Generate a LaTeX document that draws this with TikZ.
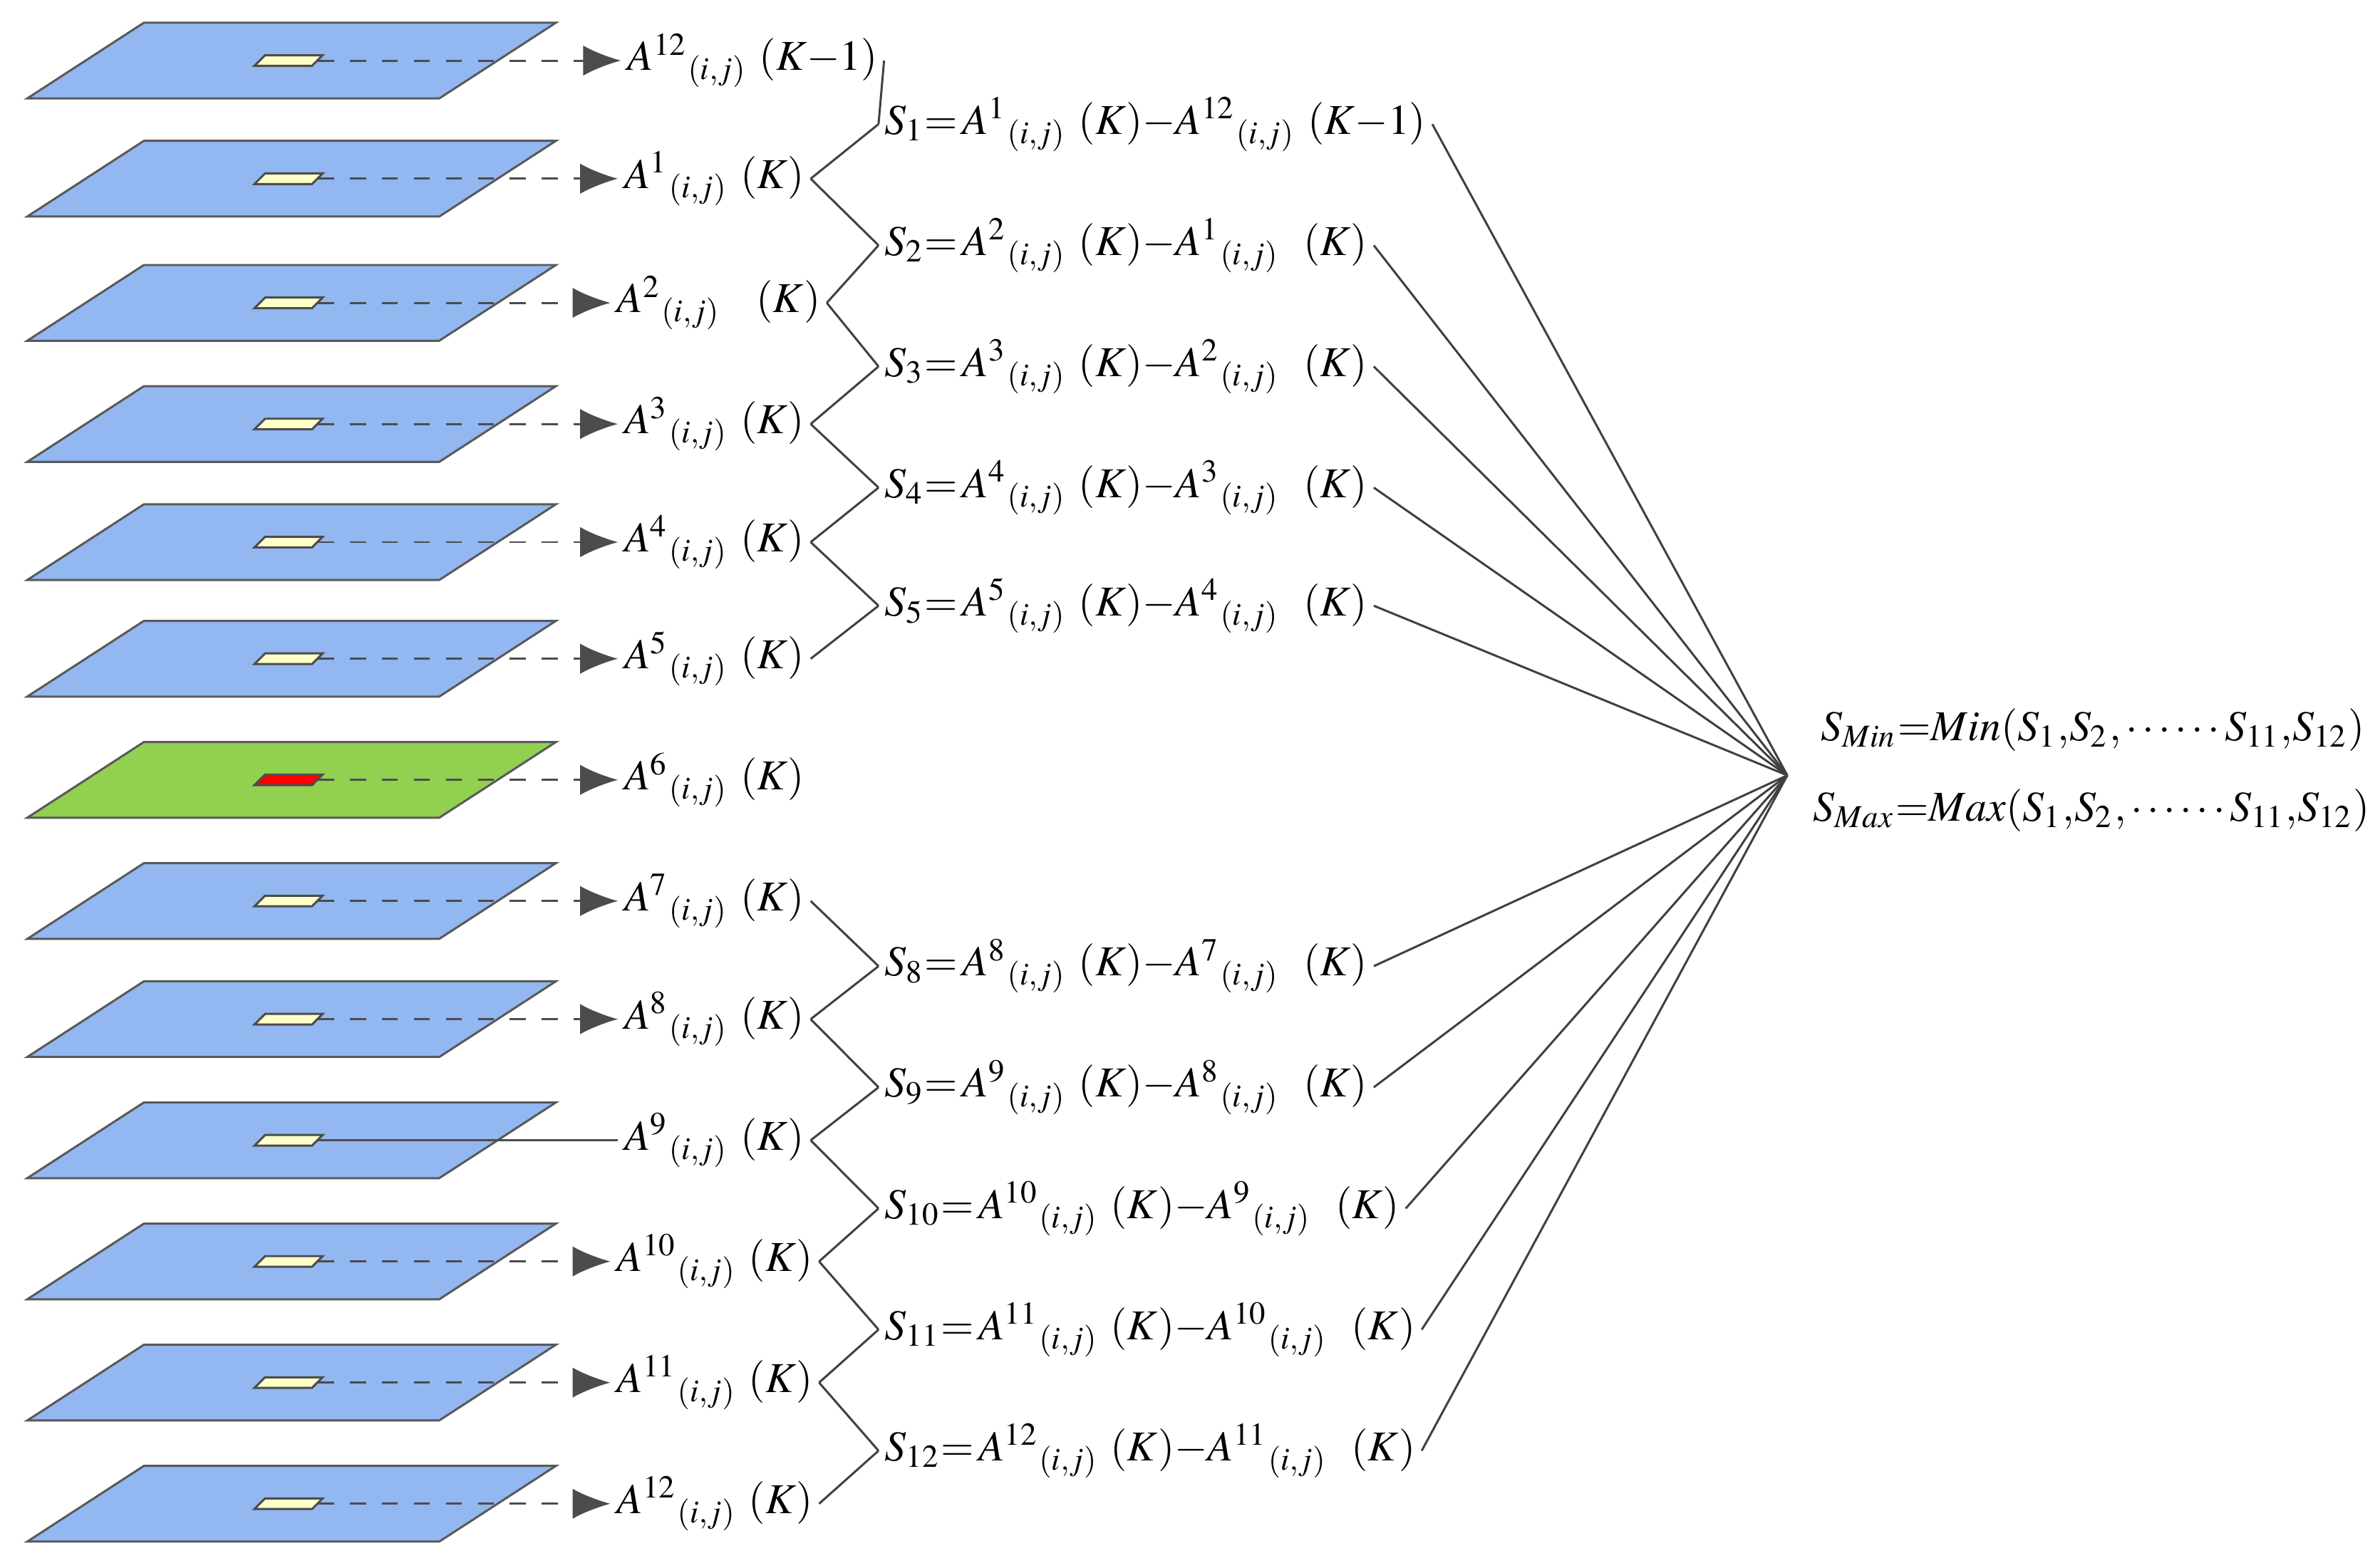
\documentclass[tikz,border=0pt]{standalone}
\usepackage{mathptmx}
\usepackage{fontspec}
\setmainfont{Liberation Serif}
\usetikzlibrary{arrows.meta}
\definecolor{planeblue}{RGB}{147,183,240}
\definecolor{planegreen}{RGB}{146,208,80}
\definecolor{cellyellow}{RGB}{255,255,200}
\begin{document}
\begin{tikzpicture}[font=\fontsize{8}{10}\selectfont]
   \tikzset{plane/.style={draw=gray!70!black,fill=#1},
            lab/.style={anchor=west,inner sep=1pt},
            dif/.style={anchor=west,inner sep=1pt},
            link/.style={draw=black!75,thin},
            feed/.style={draw=black!70,dashed,-{Latex[length=2.5mm,width=2mm]}}};
\useasboundingbox (0,0) rectangle (15.68,10.35);

% planes ---------------------------
\foreach \y [count=\r from 0] in {9.95,9.17,8.35,7.55,6.77,6.00,5.20,4.40,3.62,2.82,2.02,1.22,0.42}{
    \ifnum\r=6
        \path[plane=planegreen] (0.18,\y-0.25) -- (2.90,\y-0.25) -- (3.67,\y+0.25) -- (0.95,\y+0.25) -- cycle;
        \path[draw=black!70,fill=red] (1.68,\y-0.035) -- (2.06,\y-0.035) -- (2.13,\y+0.035) -- (1.75,\y+0.035) -- cycle;
    \else
        \path[plane=planeblue] (0.18,\y-0.25) -- (2.90,\y-0.25) -- (3.67,\y+0.25) -- (0.95,\y+0.25) -- cycle;
        \path[draw=black!70,fill=cellyellow] (1.68,\y-0.035) -- (2.06,\y-0.035) -- (2.13,\y+0.035) -- (1.75,\y+0.035) -- cycle;
    \fi
    \coordinate (c\r) at (2.10,\y);
}

% A labels -------------------------
\node[lab] (a0) at (4.10,9.95) {$A^{12}{}_{(i,j)}$\;$(K{-}1)$};
\node[lab] (a1) at (4.08,9.17) {$A^{1}{}_{(i,j)}$\;$(K)$};
\node[lab] (a2) at (4.03,8.35) {$A^{2}{}_{(i,j)}$\;\;\;$(K)$};
\node[lab] (a3) at (4.08,7.55) {$A^{3}{}_{(i,j)}$\;$(K)$};
\node[lab] (a4) at (4.08,6.77) {$A^{4}{}_{(i,j)}$\;$(K)$};
\node[lab] (a5) at (4.08,6.00) {$A^{5}{}_{(i,j)}$\;$(K)$};
\node[lab] (a6) at (4.08,5.20) {$A^{6}{}_{(i,j)}$\;$(K)$};
\node[lab] (a7) at (4.08,4.40) {$A^{7}{}_{(i,j)}$\;$(K)$};
\node[lab] (a8) at (4.08,3.62) {$A^{8}{}_{(i,j)}$\;$(K)$};
\node[lab] (a9) at (4.08,2.82) {$A^{9}{}_{(i,j)}$\;$(K)$};
\node[lab] (a10) at (4.03,2.02) {$A^{10}{}_{(i,j)}$\;$(K)$};
\node[lab] (a11) at (4.03,1.22) {$A^{11}{}_{(i,j)}$\;$(K)$};
\node[lab] (a12) at (4.03,0.42) {$A^{12}{}_{(i,j)}$\;$(K)$};

\foreach \r in {0,...,8,10,11,12}{
    \draw[feed] (c\r) -- (a\r.west);
}
\draw[draw=black!70] (c9) -- (a9.west);

% differences ----------------------
\node[dif] (s1) at (5.80,9.53) {$S_1{=}\,A^{1}{}_{(i,j)}$\;$(K){-}A^{12}{}_{(i,j)}$\;$(K{-}1)$};
\node[dif] (s2) at (5.80,8.73) {$S_2{=}\,A^{2}{}_{(i,j)}$\;$(K){-}A^{1}{}_{(i,j)}$\;\;$(K)$};
\node[dif] (s3) at (5.80,7.93) {$S_3{=}\,A^{3}{}_{(i,j)}$\;$(K){-}A^{2}{}_{(i,j)}$\;\;$(K)$};
\node[dif] (s4) at (5.80,7.13) {$S_4{=}\,A^{4}{}_{(i,j)}$\;$(K){-}A^{3}{}_{(i,j)}$\;\;$(K)$};
\node[dif] (s5) at (5.80,6.35) {$S_5{=}\,A^{5}{}_{(i,j)}$\;$(K){-}A^{4}{}_{(i,j)}$\;\;$(K)$};
\node[dif] (s8) at (5.80,3.97) {$S_8{=}\,A^{8}{}_{(i,j)}$\;$(K){-}A^{7}{}_{(i,j)}$\;\;$(K)$};
\node[dif] (s9) at (5.80,3.17) {$S_9{=}\,A^{9}{}_{(i,j)}$\;$(K){-}A^{8}{}_{(i,j)}$\;\;$(K)$};
\node[dif] (s10) at (5.80,2.37) {$S_{10}{=}\,A^{10}{}_{(i,j)}$\;$(K){-}A^{9}{}_{(i,j)}$\;\;$(K)$};
\node[dif] (s11) at (5.80,1.57) {$S_{11}{=}\,A^{11}{}_{(i,j)}$\;$(K){-}A^{10}{}_{(i,j)}$\;\;$(K)$};
\node[dif] (s12) at (5.80,0.77) {$S_{12}{=}\,A^{12}{}_{(i,j)}$\;$(K){-}A^{11}{}_{(i,j)}$\;\;$(K)$};

\foreach \k in {1,...,5,8,9,10,11,12}{
    \pgfmathtruncatemacro{\p}{\k-1}
    \draw[link] (a\p.east) -- (s\k.west);
    \draw[link] (a\k.east) -- (s\k.west);
}

% result ---------------------------
\coordinate (hub) at (11.80,5.23);
\foreach \k in {1,...,5,8,9,10,11,12}{
    \draw[link] (s\k.east) -- (hub);
}
\node[anchor=west,inner sep=1pt] (smin) at (11.98,5.53) {$S_{Min}{=}Min(S_1{,}S_2{,}\cdots\cdots S_{11}{,}S_{12})$};
\node[anchor=west,inner sep=1pt] (smax) at (11.93,5.00) {$S_{Max}{=}Max(S_1{,}S_2{,}\cdots\cdots S_{11}{,}S_{12})$};
\end{tikzpicture}
\end{document}
